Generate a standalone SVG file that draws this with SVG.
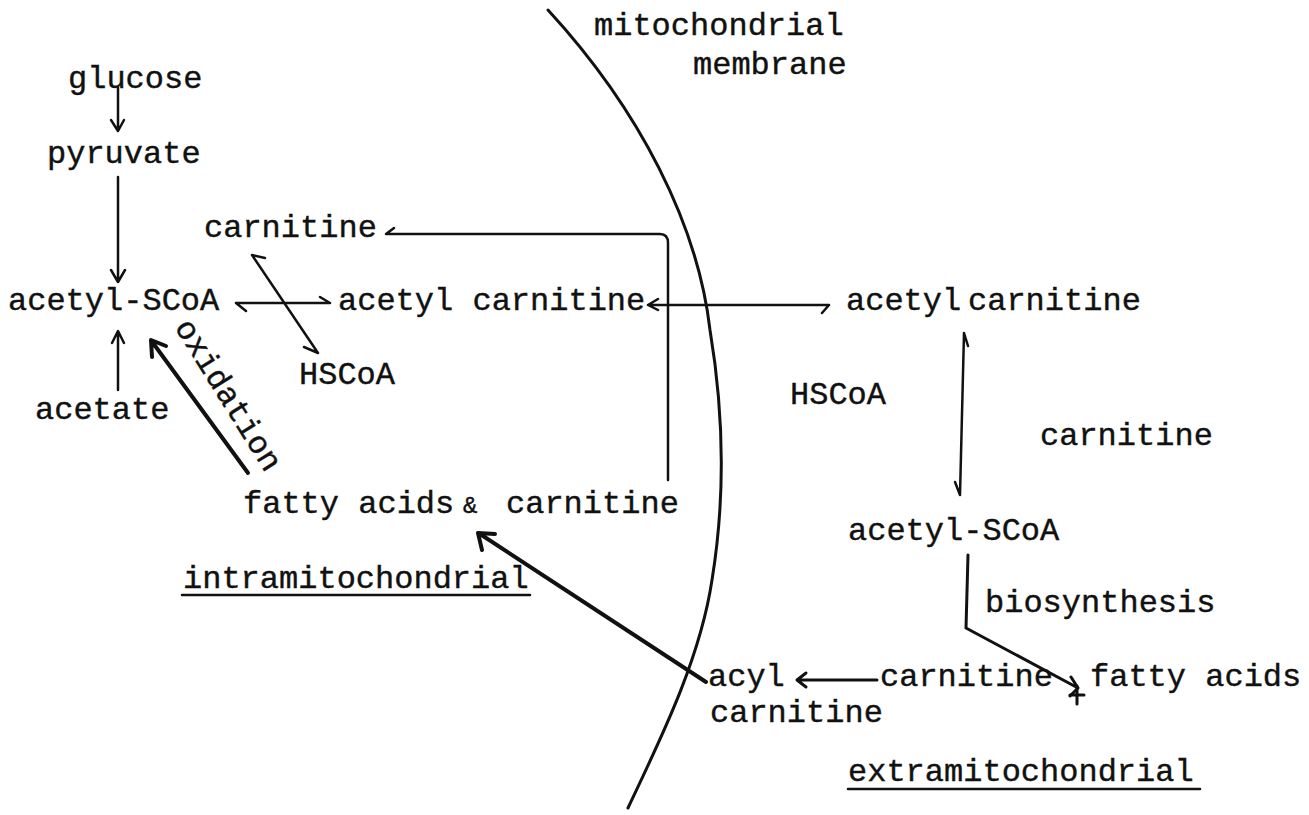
<svg xmlns="http://www.w3.org/2000/svg" width="1309" height="815" viewBox="0 0 1309 815">
<style>
text{font-family:"Liberation Mono","Courier New",monospace;font-size:32px;fill:#111;stroke:#111;stroke-width:0.4}
.ln{fill:none;stroke:#111;stroke-width:2.5;stroke-linecap:round;stroke-linejoin:round}
.th{fill:none;stroke:#111;stroke-width:4;stroke-linecap:round;stroke-linejoin:round}
</style>
<rect width="1309" height="815" fill="#fff"/>
<g id="membrane">
<path class="ln" d="M548,10 C640,110 698,225 710,330 C725,420 725,500 712,580 C700,660 660,740 628,808" style="stroke-width:3"/>
<text x="594" y="35">mitochondrial</text>
<text x="693" y="74">membrane</text>
</g>
<g id="n-glucose"><text x="68" y="88">glucose</text></g>
<g id="n-pyruvate"><text x="47" y="163">pyruvate</text></g>
<g id="n-carnitine-top"><text x="204" y="237">carnitine</text></g>
<g id="n-acetylscoa-in"><text x="8" y="310">acetyl-SCoA</text></g>
<g id="n-acetylcarnitine-in"><text x="338" y="310">acetyl carnitine</text></g>
<g id="n-hscoa-in"><text x="299" y="384">HSCoA</text></g>
<g id="n-acetate"><text x="35" y="419">acetate</text></g>
<g id="n-fatty-in"><text x="243" y="513">fatty acids</text><text x="463" y="513" style="font-size:24px">&amp;</text><text x="506" y="513">carnitine</text></g>
<g id="n-intra"><text x="183" y="588">intramitochondrial</text><line class="ln" x1="182" y1="595" x2="530" y2="595"/></g>
<g id="n-acetylcarnitine-out"><text x="846" y="310">acetyl</text><text x="968" y="310">carnitine</text></g>
<g id="n-hscoa-out"><text x="790" y="404">HSCoA</text></g>
<g id="n-carnitine-out"><text x="1040" y="445">carnitine</text></g>
<g id="n-acetylscoa-out"><text x="848" y="540">acetyl-SCoA</text></g>
<g id="n-biosynthesis"><text x="985" y="612">biosynthesis</text></g>
<g id="n-acyl"><text x="708" y="686">acyl</text><text x="710" y="722">carnitine</text></g>
<g id="n-carnitine-fatty"><text x="880" y="686">carnitine</text><text x="1090" y="686">fatty acids</text><path class="th" d="M1077,686 V704 M1070,695 H1084" style="stroke-width:3"/></g>
<g id="n-extra"><text x="848" y="781">extramitochondrial</text><line class="ln" x1="848" y1="789" x2="1200" y2="789"/></g>
<g id="n-oxidation"><text x="0" y="0" transform="translate(174,327) rotate(58)">oxidation</text></g>
<g id="connectors">
<path class="ln" d="M118,88 V130 M111,120 L118,131 L124,120"/>
<path class="ln" d="M118,177 V281 M111,270 L118,282 L125,270"/>
<path class="ln" d="M118,390 V332 M112,343 L118,331 L124,343"/>
<path class="th" d="M248,473 L153,343 M152,357 L151,340 L166,346"/>
<path class="ln" d="M236,303 H330 M236,303 L246,311 M330,303 L320,297"/>
<path class="ln" d="M252,255 L318,353 M252,255 L265,258 M318,353 L304,347"/>
<path class="ln" d="M668,480 V243 Q668,234 660,234 H386 L394,228"/>
<path class="ln" d="M648,305 H829 M648,305 L658,299 M648,305 L658,310 M829,305 L822,313"/>
<path class="ln" d="M964,333 L960,495 M964,333 L968,346 M960,495 L955,482"/>
<path class="ln" d="M968,555 L966,628 L1078,688 M1071,677 L1078,688 L1070,696" style="stroke-width:3"/>
<path class="ln" d="M877,680 H797 M806,673 L797,680 L806,687" style="stroke-width:3"/>
<path class="th" d="M706,682 L480,534 M482,550 L478,533 L495,534"/>
</g>
</svg>
